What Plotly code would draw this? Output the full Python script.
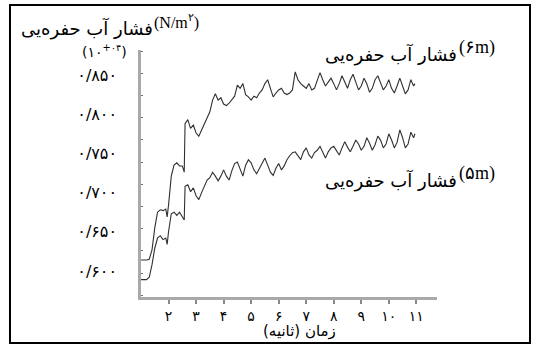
import plotly.graph_objects as go

# Time (s) and pore water pressure readings (x 10^-4 N/m^2) at two depths
time_s = [1.0, 1.1, 1.2, 1.3, 1.4, 1.5, 1.6, 1.7, 1.8, 1.9, 1.95, 2.0, 2.1, 2.2, 2.3, 2.4, 2.5, 2.57, 2.6,
          2.7, 2.8, 2.9, 3.0, 3.1, 3.2, 3.3, 3.4, 3.5, 3.6, 3.7, 3.8, 3.9, 4.0, 4.1, 4.2, 4.3, 4.4,
          4.5, 4.6, 4.7, 4.8, 4.9, 5.0, 5.1, 5.2, 5.3, 5.4, 5.5, 5.6, 5.7, 5.8, 5.9, 6.0, 6.1, 6.2,
          6.3, 6.4, 6.5, 6.6, 6.7, 6.8, 6.9, 7.0, 7.1, 7.2, 7.3, 7.4, 7.5, 7.6, 7.7, 7.8, 7.9, 8.0,
          8.1, 8.2, 8.3, 8.4, 8.5, 8.6, 8.7, 8.8, 8.9, 9.0, 9.1, 9.2, 9.3, 9.4, 9.5, 9.6, 9.7, 9.8,
          9.9, 10.0, 10.1, 10.2, 10.3, 10.4, 10.5, 10.6, 10.7, 10.8, 10.9, 10.95]

pressure_6m = [0.614, 0.614, 0.614, 0.615, 0.627, 0.655, 0.675, 0.678, 0.677, 0.679, 0.669, 0.684, 0.721, 0.735,
               0.738, 0.734, 0.734, 0.726, 0.788, 0.793, 0.782, 0.786, 0.776, 0.772, 0.780, 0.788, 0.795,
               0.803, 0.818, 0.826, 0.818, 0.821, 0.813, 0.811, 0.814, 0.818, 0.823, 0.837, 0.833, 0.839,
               0.825, 0.822, 0.818, 0.823, 0.821, 0.827, 0.831, 0.839, 0.844, 0.833, 0.822, 0.827, 0.831,
               0.833, 0.827, 0.825, 0.827, 0.831, 0.854, 0.844, 0.839, 0.836, 0.833, 0.839, 0.831, 0.833,
               0.844, 0.853, 0.844, 0.836, 0.841, 0.846, 0.839, 0.831, 0.839, 0.849, 0.841, 0.833, 0.844,
               0.851, 0.841, 0.831, 0.836, 0.846, 0.839, 0.828, 0.833, 0.844, 0.849, 0.839, 0.831, 0.836,
               0.844, 0.833, 0.827, 0.836, 0.846, 0.836, 0.826, 0.831, 0.844, 0.836, 0.839]

pressure_5m = [0.589, 0.589, 0.589, 0.592, 0.608, 0.629, 0.642, 0.645, 0.640, 0.642, 0.634, 0.650, 0.673, 0.675,
               0.671, 0.675, 0.670, 0.665, 0.708, 0.710, 0.701, 0.706, 0.696, 0.691, 0.700, 0.708, 0.716,
               0.719, 0.726, 0.721, 0.715, 0.721, 0.729, 0.721, 0.716, 0.728, 0.737, 0.739, 0.729, 0.721,
               0.735, 0.742, 0.738, 0.729, 0.724, 0.731, 0.739, 0.744, 0.735, 0.726, 0.722, 0.731, 0.737,
               0.729, 0.734, 0.742, 0.747, 0.751, 0.752, 0.747, 0.742, 0.752, 0.757, 0.748, 0.744, 0.751,
               0.754, 0.759, 0.752, 0.744, 0.752, 0.757, 0.759, 0.754, 0.748, 0.757, 0.765, 0.758, 0.752,
               0.759, 0.767, 0.762, 0.754, 0.759, 0.770, 0.763, 0.754, 0.761, 0.772, 0.767, 0.757, 0.762,
               0.775, 0.767, 0.757, 0.764, 0.780, 0.770, 0.757, 0.762, 0.777, 0.770, 0.775]

x_tick_vals = [2, 3, 4, 5, 6, 7, 8, 9, 10, 11]
x_tick_text = ["۲", "۳", "۴", "۵", "۶", "۷", "۸", "۹", "۱۰", "۱۱"]
y_tick_vals = [0.600, 0.650, 0.700, 0.750, 0.800, 0.850]
y_tick_text = ["۰/۶۰۰", "۰/۶۵۰", "۰/۷۰۰", "۰/۷۵۰", "۰/۸۰۰", "۰/۸۵۰"]

AXIS_GREY = "#a9a9a9"
LINE_COLOR = "#303030"
SERIF = "Liberation Serif, DejaVu Serif, serif"
FA = "DejaVu Sans, sans-serif"


def ltr(s):
    """Force left-to-right visual order for mixed Latin/Persian snippets."""
    return "\u202d" + s + "\u202c"


fig = go.Figure()
for series in (pressure_6m, pressure_5m):
    fig.add_trace(go.Scatter(x=time_s, y=series, mode="lines",
                             line=dict(color=LINE_COLOR, width=1.1), showlegend=False,
                             hoverinfo="skip"))

fig.update_layout(
    width=533, height=345,
    margin=dict(l=141, r=96, t=50, b=48),
    paper_bgcolor="white", plot_bgcolor="white",
    showlegend=False,
)

fig.update_xaxes(
    range=[1, 11.75], showgrid=False, zeroline=False,
    showline=True, linecolor=AXIS_GREY, linewidth=2.5,
    tickmode="array", tickvals=x_tick_vals, ticktext=x_tick_text,
    ticks="outside", ticklen=4, tickwidth=1.5, tickcolor="#888888",
    tickfont=dict(family=FA, size=14, color="black"),
)

fig.update_yaxes(
    range=[0.5668, 0.8819], showgrid=False, zeroline=False,
    showline=True, linecolor=AXIS_GREY, linewidth=2.5,
    tickmode="array", tickvals=y_tick_vals, ticktext=y_tick_text,
    ticks="", ticklabelstandoff=18,
    tickfont=dict(family=FA, size=16, color="black"),
    minor=dict(tick0=0.5974, dtick=0.0283, ticks="inside", ticklen=2,
               tickwidth=1.2, tickcolor="#707070"),
)

annotations = [
    # y-axis caption, top left
    dict(text="فشار آب حفره‌یی", x=0.046, y=1.087, xanchor="right", yanchor="middle",
         font=dict(family=FA, size=18, color="black")),
    dict(text=ltr("(N/m<sup>۲</sup>)"), x=0.037, y=1.117, xanchor="left", yanchor="middle",
         font=dict(family=SERIF, size=16, color="black")),
    dict(text=ltr("(۱۰<sup>+۰۴</sup>)"), x=-0.125, y=0.995, xanchor="center", yanchor="middle",
         font=dict(family=FA, size=14, color="black")),
    # series labels
    dict(text="فشار آب حفره‌یی", x=1.074, y=0.983, xanchor="right", yanchor="middle",
         font=dict(family=FA, size=18, color="black")),
    dict(text=ltr("(۶m)"), x=1.066, y=1.012, xanchor="left", yanchor="middle",
         font=dict(family=SERIF, size=18, color="black")),
    dict(text="فشار آب حفره‌یی", x=1.074, y=0.470, xanchor="right", yanchor="middle",
         font=dict(family=FA, size=18, color="black")),
    dict(text=ltr("(۵m)"), x=1.066, y=0.502, xanchor="left", yanchor="middle",
         font=dict(family=SERIF, size=18, color="black")),
    # x-axis caption
    dict(text="زمان (ثانیه)", x=0.537, y=-0.138, xanchor="center", yanchor="middle",
         font=dict(family=FA, size=15, color="black")),
]
for a in annotations:
    a.update(xref="paper", yref="paper", showarrow=False)
fig.update_layout(annotations=annotations)

# outer frame around the whole figure
fig.add_shape(type="rect", xref="paper", yref="paper",
              x0=-0.4426, x1=1.3142, y0=-0.1862, y1=1.1822,
              line=dict(color="black", width=2), fillcolor="rgba(0,0,0,0)")

fig.write_html("out.html")
